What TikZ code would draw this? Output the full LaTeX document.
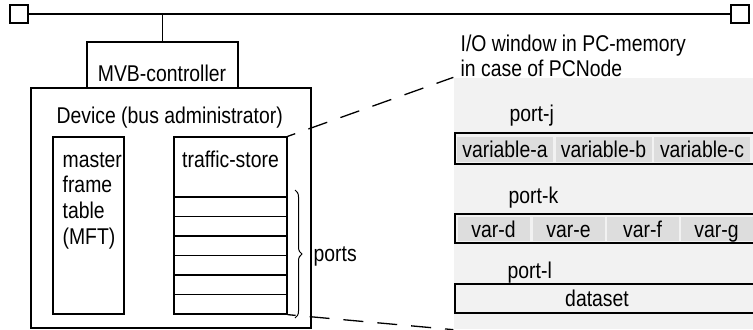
\documentclass[tikz,border=0pt]{standalone}
\usepackage{fontspec}
\setmainfont[FakeStretch=0.85]{Liberation Sans}
\usetikzlibrary{fit,decorations.pathreplacing}

\tikzset{
	box/.style={draw, inner sep=0pt},
	txt/.style={inner sep=0pt},
	cell/.style={fill=gray!27, inner sep=0pt, text height=8pt, text depth=0pt},
	ioline/.style={dash pattern=on 10pt off 7pt, dash phase=6pt},
}

\begin{document}
\begin{tikzpicture}[x=0.5pt,y=-0.5pt,line width=0.65pt,font=\fontsize{11.4}{12.85}\selectfont]
		\useasboundingbox (0,0) rectangle (753,329);
		% bus with its two ends
		\node[box, fit={(10,5) (28,23)}] (endL) {};
		\node[box, fit={(731,5) (749,23)}] (endR) {};
		\draw (endL) -- (endR);
		% controller and device
		\node[box, fit={(87,42) (238,88)}] (mvb) {};
		\draw (mvb.north) -- (mvb.north |- endL.east);
		\node[txt, anchor=base] (mvbtxt) at (162,81) {MVB-controller};
		\node[box, fit={(31,88) (311,328)}] (dev) {};
		\node[txt, anchor=base west] (devtxt) at (56,123) {Device (bus administrator)};
		\node[box, fit={(53,137) (124,314)}] (mft) {};
		\foreach \w [count=\i] in {master,frame,table,(MFT)}
			\node[txt, anchor=base west] (mft\i) at (62,141.3+25.7*\i) {\w};
		\node[box, fit={(174,137) (287,314)}] (ts) {};
		\node[txt, anchor=base] (tstxt) at (230.5,167) {traffic-store};
		\foreach \i in {0,...,5}
			\draw (ts.west |- 0,197+19.5*\i) -- (ts.east |- 0,197+19.5*\i);
		\draw[line width=0.5pt, decorate, decoration={brace, amplitude=3.5pt}] (295,190) -- (295,318);
		\node[txt, anchor=base west] (ports) at (313,261) {ports};
		% I/O window
		\node[fill=gray!10, inner sep=0pt, fit={(454,78) (753,329)}] (win) {};
		\draw[ioline] (ts.north east) -- (win.north west);
		\draw[ioline] (ts.south east) -- (win.south west);
		\node[txt, anchor=base west] (io1) at (460,51) {I/O window in PC-memory};
		\node[txt, anchor=base west] (io2) at (460,76) {in case of PCNode};
		% port-j
		\node[txt, anchor=base west] (pj) at (509,121) {port-j};
		\node[box, fit={(455,133) (756,164)}] (rowj) {};
		\foreach \t/\cx [count=\i] in {variable-a/505,variable-b/603.5,variable-c/702}
			\node[cell, minimum width=48pt, minimum height=12.5pt] (vj\i) at (\cx,149) {\t};
		% port-k
		\node[txt, anchor=base west] (pk) at (508,203) {port-k};
		\node[box, fit={(455,214) (756,243)}] (rowk) {};
		\foreach \t/\cx [count=\i] in {var-d/493.5,var-e/568.5,var-f/642.5,var-g/716.5}
			\node[cell, minimum width=36pt, minimum height=12pt] (vk\i) at (\cx,229) {\t};
		% port-l
		\node[txt, anchor=base west] (pl) at (507,278) {port-l};
		\node[box, fit={(455,284) (756,313)}] (rowl) {};
		\node[txt, text height=8pt, text depth=0pt] (ds) at (597,298.5) {dataset};
	\end{tikzpicture}
\end{document}
